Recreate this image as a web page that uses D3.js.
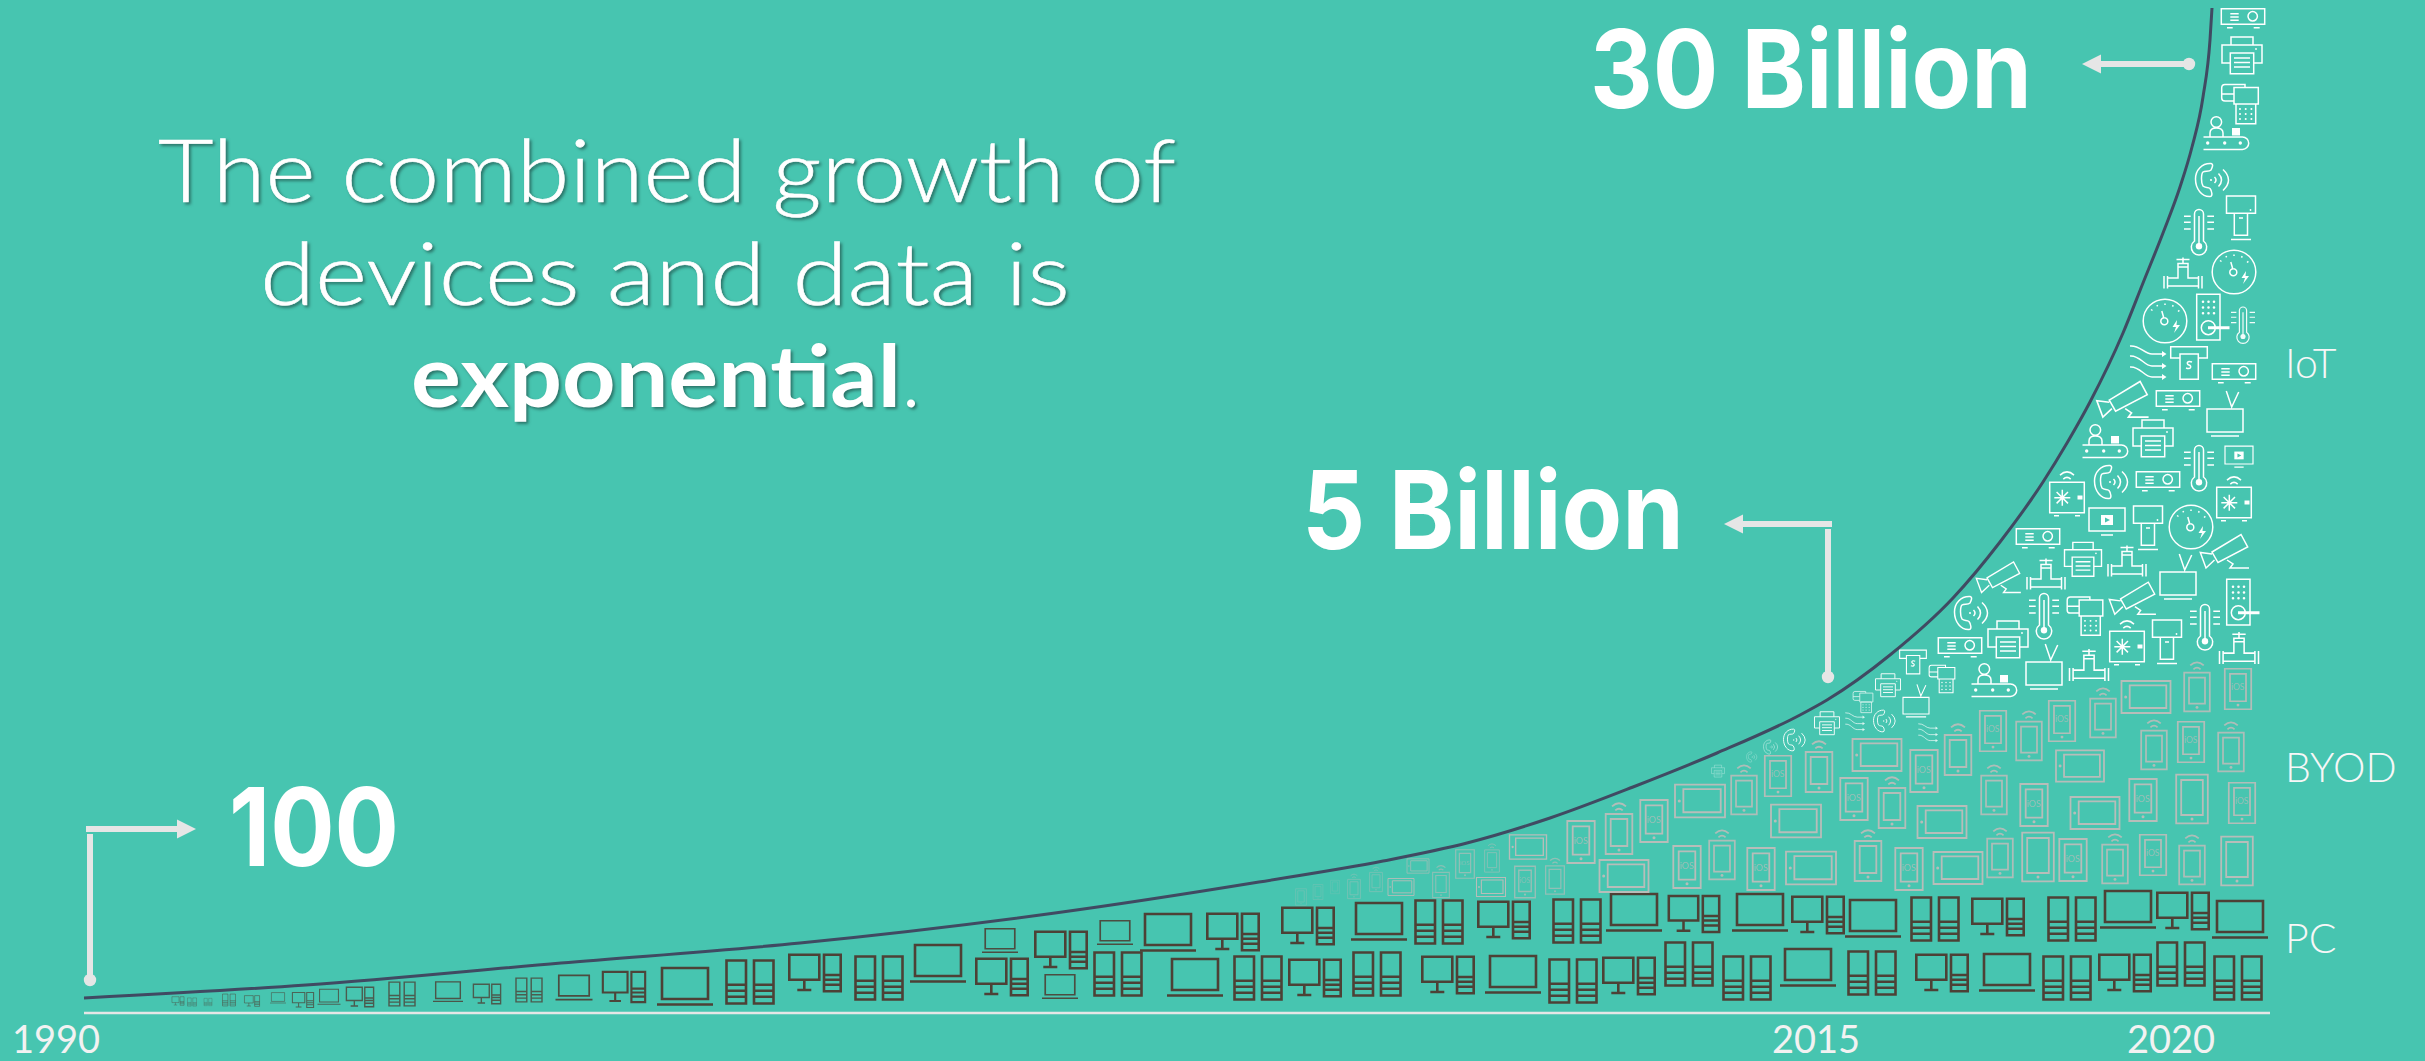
<!DOCTYPE html>
<html>
<head>
<meta charset="utf-8">
<title>Device growth</title>
<script src="https://cdn.jsdelivr.net/npm/d3@7"></script>
<style>
  html, body { margin: 0; padding: 0; background: #47c5b0; overflow: hidden; }
  svg { display: block; }
  .shadowed { filter: drop-shadow(2px 2.5px 1.5px rgba(20, 50, 45, .55)); }
</style>
</head>
<body>
<svg id="chart" width="2425" height="1061"></svg>
<script>
// Growth curve, in timeline steps (about 70 to the year) and height above the baseline.
const curveSteps   = [0, 222, 477, 716, 971, 1175, 1299, 1383, 1466, 1549, 1633, 1716, 1743, 1806, 1869, 1916, 1959, 1983, 2006, 2039, 2059, 2079, 2096, 2108, 2119, 2126, 2128];
const curveHeights = [15, 28, 50, 70, 100, 131, 152, 170, 195, 226, 260, 298, 313, 358, 415, 471, 531, 570, 611, 680, 730, 780, 826, 866, 916, 973, 1005];

// Called-out milestones.
const calloutLabels  = ["100", "5 Billion", "30 Billion"];
const calloutYears   = [1990, 2015, 2020];
const calloutDevices = [100, 5e9, 30e9];

const tickLabels = ["1990", "2015", "2020"];
const seriesLabels = ["IoT", "BYOD", "PC"];
const titleLines = ["The combined growth of", "devices and data is"];

// Device glyphs: [kind, timeline step, height, span in steps].
const pcDevices = [
  ["monitorTower",94,12,12],["towers",108,11,9],["towers",124,11,8],["towers",145,13,13],
  ["monitorTower",168,12,15],["laptop",194,15,16],["monitorTower",219,13,21],["laptop",245,16,23],
  ["monitorTower",276,16,27],["towers",318,19,26],["laptop",364,21,30],["monitorTower",403,19,27],
  ["towers",445,23,26],["laptop",490,25,37],["monitorTower",540,26,42],["laptop",601,26,56],
  ["towers",666,31,47],["monitorTower",731,40,51],["towers",795,35,47],["laptop",854,49,56],
  ["laptop",916,72,36],["monitorTower",918,36,51],["monitorTower",977,63,51],["laptop",976,26,36],
  ["towers",1034,39,47],["laptop",1031,80,36],["laptop",1084,80,56],["laptop",1111,35,56],
  ["monitorTower",1149,81,51],["towers",1174,35,47],["monitorTower",1224,87,51],["monitorTower",1231,35,51],
  ["towers",1293,39,47],["laptop",1295,91,56],["towers",1355,91,47],["monitorTower",1364,38,51],
  ["monitorTower",1420,93,51],["laptop",1429,38,56],["towers",1489,32,47],["towers",1493,92,47],
  ["monitorTower",1545,37,51],["laptop",1550,100,56],["towers",1605,49,47],["monitorTower",1610,99,50],
  ["towers",1663,35,47],["laptop",1676,100,56],["laptop",1724,45,56],["monitorTower",1734,98,51],
  ["towers",1788,40,47],["laptop",1789,94,56],["towers",1851,94,47],["monitorTower",1858,40,51],
  ["monitorTower",1914,96,51],["laptop",1923,40,56],["towers",1983,35,47],["towers",1988,94,47],
  ["monitorTower",2041,40,51],["laptop",2044,103,56],["towers",2097,49,47],["monitorTower",2099,102,51],
  ["towers",2154,35,47],["laptop",2156,93,56]
];

const byodDevices = [
  ["ios",1217,116,11],["ios",1234,121,10],["ios",1251,126,9],["phone",1270,124,13],["phone",1292,131,13],
  ["tablet",1317,126,26],["tablet",1334,147,22],["phone",1357,128,17],["ios",1381,149,19],["phone",1408,152,15],
  ["tablet",1407,126,29],["tablet",1444,166,37],["ios",1441,131,21],["phone",1471,133,19],["ios",1497,171,28],
  ["tablet",1540,137,49],["phone",1535,179,27],["ios",1570,192,28],["ios",1603,146,28],["phone",1638,153,26],
  ["tablet",1616,212,50],["phone",1660,218,26],["ios",1694,237,27],["ios",1677,144,28],["tablet",1712,192,50],
  ["tablet",1727,145,50],["phone",1735,241,27],["tablet",1793,258,49],["ios",1770,214,28],["phone",1808,205,27],
  ["ios",1840,242,28],["phone",1874,258,27],["tablet",1858,191,49],["phone",1784,152,27],["ios",1825,144,28],
  ["tablet",1874,145,49],["ios",1909,282,27],["phone",1945,272,26],["ios",1978,292,27],["phone",2019,295,26],
  ["tablet",2062,316,49],["phone",2113,321,26],["ios",2154,324,27],["phone",1910,218,26],["ios",1950,208,28],
  ["tablet",1996,247,48],["phone",2070,263,26],["ios",2107,271,27],["phone",2147,261,26],["tablet",2011,200,49],
  ["ios",2059,213,28],["slate",2108,214,32],["ios",2158,210,27],["phone",1916,155,26],["slate",1954,156,32],
  ["ios",1989,153,28],["phone",2031,149,26],["ios",2069,158,27],["phone",2108,148,26],["slate",2153,152,32]
];

const iotDevices = [
  ["projector",2159,995,43],["printer",2158,958,40],["terminal",2156,909,37],["conveyor",2142,880,45],
  ["handset",2129,833,35],["kiosk",2157,795,29],["thermometer",2115,781,30],["valve",2099,740,38],
  ["gauge",2150,741,45],["gauge",2081,692,45],["lock",2129,696,33],["thermometer",2159,688,24],
  ["wind",2064,650,37],["atm",2105,650,37],["projector",2150,640,43],["camera",2038,614,50],
  ["projector",2094,613,43],["tv",2141,599,36],["conveyor",2021,572,45],["printer",2069,575,40],
  ["thermometer",2115,545,30],["screen",2155,556,28],["safe",1983,519,35],["handset",2028,531,35],
  ["projector",2074,532,43],["safe",2150,514,35],["screen",2023,491,36],["kiosk",2064,485,29],
  ["gauge",2107,486,45],["camera",2140,462,47],["projector",1954,475,43],["printer",1999,454,37],
  ["valve",2043,452,38],["tv",2094,436,36],["camera",1914,436,43],["valve",1962,439,38],
  ["thermometer",1960,397,30],["terminal",2001,397,36],["camera",2048,415,45],["thermometer",2121,386,30],
  ["lock",2159,411,33],["safe",2043,370,35],["kiosk",2083,371,29],["valve",2155,365,39],
  ["printer",1924,374,40],["handset",1888,400,35],["projector",1876,366,43],["tv",1960,346,36],
  ["valve",2005,348,39],["conveyor",1910,333,45],["atm",1829,351,27],["terminal",1858,334,26],
  ["printer",1804,328,25],["tv",1832,312,26],["terminal",1779,311,20],["printer",1743,290,25],
  ["wind",1771,291,20],["handset",1801,292,23],["wind",1844,280,20],["handset",1711,273,23],
  ["handset",1687,266,15],["handset",1668,256,11],["printer",1634,242,13]
];

// Scales: timeline steps and heights for the curve and glyphs, years and device counts for the call-outs.
const stepX = d3.scaleLinear().domain([0, 2186]).range([84, 2270]);
const heightY = d3.scaleLinear().domain([0, 1013]).range([1013, 0]);
const yearX = d3.scaleLinear().domain([1990, 2015, 2020]).range([90, 1828, 2189]);
const devicesY = d3.scaleLinear().domain([100, 5e9, 30e9]).range([980, 677, 64]);

const svg = d3.select("#chart");
const BG = "#47c5b0", LIGHT = "#e6e6e6", WHITE = "#ffffff";

// Round mark as a path fragment.
const dot = (x, y, r) => `M${x - r} ${y}a${r} ${r} 0 1 0 ${2 * r} 0a${r} ${r} 0 1 0 ${-2 * r} 0Z`;
const grid = (xs, ys, r) => xs.flatMap(x => ys.map(y => dot(x, y, r))).join("");
const wifi = (top) => `M-7 ${top + 3.4}Q0 ${top - 3} 7 ${top + 3.4}M-3.7 ${top + 7.4}Q0 ${top + 4} 3.7 ${top + 7.4}`;

// Glyph outlines, centred on the origin; w is the width the geometry was drawn at.
const glyphs = {
  laptop: { w: 56, line: "M-23 -19H23V12H-23ZM-28 17.5H28" },
  monitorTower: { w: 51, line: "M-25.7 -18.3H4.3V6.7H-25.7ZM-10.7 6.7V17M-17.7 17H-3.7M9 -18.3H25.7V18.3H9ZM9 2H25.7M9 6.7H25.7M9 11.7H25.7" },
  towers: { w: 47, line: "M-23.5 -21.5H-4V21.5H-23.5ZM-23.5 2.7H-4M-23.5 8.7H-4M-23.5 14.7H-4M4 -21.5H23.5V21.5H4ZM4 2.7H23.5M4 8.7H23.5M4 14.7H23.5" },
  phone: { w: 27, line: "M-13.3 -20H13.3V20H-13.3ZM-8.3 -15H8.3V12H-8.3Z" + wifi(-31), fill: dot(0, 16, 1.5) },
  ios: { w: 28, line: "M-13.7 -21H13.7V21H-13.7ZM-8.3 -15.7H8.3V12.7H-8.3Z", fill: dot(0, 16.7, 1.5), label: "iOS" },
  slate: { w: 32, line: "M-15.8 -24.3H15.8V24.3H-15.8ZM-10.8 -19H10.8V16H-10.8Z", fill: dot(0, 20, 1.5) },
  tablet: { w: 49, line: "M-24.5 -16H24.5V16H-24.5ZM-16.3 -11.7H20.3V11H-16.3Z", fill: dot(-20.3, 0, 1.5) },
  projector: { w: 43, line: "M-21.7 -9.3H21.7V6.3H-21.7ZM-16 9.7H-10.3M10.7 9.7H16.7M-12.7 -4.3H-4.3M-12.7 -1H-4.3M-12.7 2.3H-4.3" + dot(9.7, -1.7, 4.7) },
  printer: { w: 40, line: "M-11.7 8H-20V-10H20V8H11.7M-11 -10V-18H11V-10M-11.7 -2H11.7V18.7H-11.7ZM-8 3H8M-8 7.5H8M-8 12H8", fill: dot(14, -6, 0.9) },
  terminal: { w: 37, line: "M-6 -3H-15Q-18.3 -3 -18.3 -6V-16Q-18.3 -19.5 -15 -19.5H5V-16.5M-18.3 -10H-6M-6 -16.5H18.3V0H-6ZM-4 0H15.7V19.7H-4Z", fill: grid([0, 5.7, 11.4], [5, 10, 15], 1) },
  conveyor: { w: 45, line: dot(-9.7, -11, 5.3) + "M-16 4V0Q-16 -5 -9.7 -5Q-3 -5 -3 0V4M-22.5 4H16.5A6.2 6.2 0 0 1 16.5 16.4H-22.5", fill: "M6 -5h8v7.5h-8Z" + dot(-18.3, 10, 1.7) + dot(-1.3, 10, 1.7) + dot(14.3, 10, 1.7) },
  handset: { w: 35, line: "M-2 -16.5C-11 -17 -17.5 -10 -17.5 -1C-17.5 9 -11 17 -3 16.5C0 16.5 -1 11 -3 8.5C-5 7 -8 8 -10 6C-12 3 -12 -6 -10 -8C-8 -9.5 -4 -8 -2 -10C-1 -12 1 -16 -2 -16.5ZM1.5 -3Q4.5 0 1.5 3M5.5 -6.5Q11.5 0 5.5 6.5M10 -10.5Q21 0 10 10.5", fill: dot(-2, 0, 1) },
  kiosk: { w: 29, line: "M-14.5 -22H14.5V-4.7H-14.5ZM-6.7 -4.7H6.5V17.3H-6.7ZM-10 21.4H10M-2 0H2", fill: dot(9.5, -8, 0.9) },
  thermometer: { w: 30, line: "M-4.5 9V-18A4.5 4.5 0 0 1 4.5 -18V9A7.7 7.7 0 1 1 -4.5 9ZM0 -16V14M-15 -15.7H-8.3M-15 -9.7H-8.3M-15 -3H-8.3M8.3 -15.7H15M8.3 -9.7H15M8.3 -3H15", fill: dot(0, 14.3, 3.2) },
  valve: { w: 38, line: "M-15 5H-5V-6H5V5H15M-15 13H15M-19 3V15.5M-15.5 3V15.5M19 3V15.5M15.5 3V15.5M-6.5 -13.5H6.5M0 -15.5V-10M-5 -9.5H5V-6H-5Z" },
  gauge: { w: 45, line: dot(0, 0, 21.8) + dot(-0.7, 0.3, 3.5) + "M-1.2 -3L-3.2 -10M-14 -11.5L-12.5 -10.5M-8 -16L-7.4 -14.6M0 -17.5V-16M8.2 -15.8L7.5 -14.4M14.4 -10.6L13 -9.5", fill: "M12 -1L7.5 6H11L9 12L15 4H11.5Z" },
  lock: { w: 33, line: "M-16.3 -22.7H7V23H-16.3Z" + dot(-4.7, 10.7, 7), fill: grid([-10, -4.5, 1], [-15.3, -9.5, -3.7], 1.3) + "M-5 9.2H16.5V12.2H-5Z" },
  wind: { w: 37, line: "M-18 -17C-8 -18 -4 -9 4 -9H15M-18 -7C-8 -8 -4 3 4 3H15M-18 4C-8 3 -4 14 4 14H15", fill: "M18.5 -9L14 -12V-6ZM18.5 3L14 0V6ZM18.5 14L14 11V17Z" },
  atm: { w: 37, line: "M-9 -5H-18.3V-16.3H18.3V-5H9.3M-9 -9H9.3V16.3H-9ZM3 -1C-2 -3 -3 1 0 2C3 3 2 7 -3 5" },
  camera: { w: 47, line: "M-12 1L17 -16.5L23.7 -4L-6 11.5ZM-12 3L-23.7 1.5L-18 17L-9.5 9M3 9L9 13L6 17H25" },
  safe: { w: 35, line: "M-17.3 -11.7H17.3V18.7H-17.3ZM-13 21.7H-8M8 21.7H13M-4.7 -4.3V11.7M-12.7 3.7H3.3M-10.4 -2L1 9.4M-10.4 9.4L1 -2" + wifi(-22.3), fill: "M10.5 1.5H15.5V5.5H10.5Z" },
  screen: { w: 36, line: "M-18 -14H18V9H-18ZM-6 13H6", fill: "M-6 -7H6V3H-6Z", hole: "M-2 -4.5L3 -2L-2 0.5Z" },
  tv: { w: 36, line: "M-18 -5H18V18H-18ZM-14 22H14M1.3 -23L6.7 -7L13.7 -22" }
};

// Draws one family of device glyphs; smaller glyphs fade into the background.
function drawDevices(rows, cls, colour, strokeWidth, fade) {
  const group = svg.append("g").attr("class", cls);
  const marks = group.selectAll("g").data(rows).join("g")
    .attr("transform", d => {
      const g = glyphs[d[0]];
      return `translate(${stepX(d[1])},${heightY(d[2])}) scale(${d[3] / g.w})`;
    })
    .attr("opacity", d => fade(d[3]));
  marks.append("path")
    .attr("d", d => glyphs[d[0]].line)
    .attr("fill", "none").attr("stroke", colour).attr("stroke-width", strokeWidth);
  marks.filter(d => glyphs[d[0]].fill).append("path")
    .attr("d", d => glyphs[d[0]].fill).attr("fill", colour);
  marks.filter(d => glyphs[d[0]].hole).append("path")
    .attr("d", d => glyphs[d[0]].hole).attr("fill", BG);
  marks.filter(d => glyphs[d[0]].label && d[3] >= 18).append("text")
    .text(d => glyphs[d[0]].label)
    .attr("text-anchor", "middle").attr("y", 1.5)
    .attr("font-family", "Lato").attr("font-size", 9).attr("fill", colour).attr("opacity", .75);
}

drawDevices(pcDevices, "pc", "#4d4136", 2.6, d3.scaleLinear().domain([8, 30, 45]).range([.55, .85, 1]).clamp(true));
drawDevices(byodDevices, "byod", "#b7bdb9", 1.8, d3.scaleLinear().domain([9, 28]).range([.3, 1]).clamp(true));
drawDevices(iotDevices, "iot", WHITE, 1.5, d3.scaleLinear().domain([11, 26]).range([.5, 1]).clamp(true));

// Baseline and growth curve.
svg.append("line").attr("x1", stepX.range()[0]).attr("x2", stepX.range()[1])
  .attr("y1", heightY(0)).attr("y2", heightY(0))
  .attr("stroke", LIGHT).attr("stroke-width", 2.5);

svg.append("path")
  .datum(d3.zip(curveSteps, curveHeights))
  .attr("d", d3.line().x(d => stepX(d[0])).y(d => heightY(d[1])).curve(d3.curveMonotoneX))
  .attr("fill", "none").attr("stroke", "#404a62").attr("stroke-width", 3);

// Call-out leaders: a dot on the milestone, a shaft and an arrowhead towards its label.
function leader(i, elbow, tip) {
  const x = yearX(calloutYears[i]), y = devicesY(calloutDevices[i]);
  const g = svg.append("g").attr("fill", LIGHT).attr("stroke", "none");
  g.append("circle").attr("cx", x).attr("cy", y).attr("r", 6.2);
  const dir = tip > x ? 1 : -1;
  const base = tip - dir * 19;
  const shaftY = elbow === null ? y : elbow;
  if (elbow !== null) {
    g.append("rect").attr("x", x - 3).attr("y", elbow + 5).attr("width", 6).attr("height", y - elbow - 5);
  }
  g.append("rect").attr("x", Math.min(x + (elbow === null ? 0 : -dir * 4), base))
    .attr("y", shaftY - 3)
    .attr("width", Math.abs(x + (elbow === null ? 0 : -dir * 4) - base)).attr("height", 6);
  g.append("path").attr("d", `M${tip} ${shaftY}L${base} ${shaftY - 9.5}V${shaftY + 9.5}Z`);
}
leader(0, 829, 196);
leader(1, 524, 1724);
leader(2, null, 2082);

// Big milestone labels.
const bigAttrs = [
  { x: 229, y: 866, len: 170 },
  { x: 1302, y: 549, len: 382 },
  { x: 1590, y: 108, len: 442 }
];
svg.selectAll("text.big").data(calloutLabels).join("text")
  .attr("class", "big")
  .text(d => d)
  .attr("x", (d, i) => bigAttrs[i].x).attr("y", (d, i) => bigAttrs[i].y)
  .attr("textLength", (d, i) => bigAttrs[i].len).attr("lengthAdjust", "spacingAndGlyphs")
  .attr("font-family", "Inter").attr("font-weight", 700)
  .attr("font-size", 108).attr("fill", WHITE);

// Headline.
const head = svg.append("g").attr("class", "shadowed")
  .attr("font-family", "Lato").attr("fill", WHITE).attr("font-size", 86);
const headAttrs = [{ x: 158, y: 202, len: 1018 }, { x: 260, y: 305, len: 810 }];
head.selectAll("text.line").data(titleLines).join("text").attr("class", "line")
  .text(d => d).attr("font-weight", 300)
  .attr("stroke", WHITE).attr("stroke-width", 0.6)
  .attr("x", (d, i) => headAttrs[i].x).attr("y", (d, i) => headAttrs[i].y)
  .attr("textLength", (d, i) => headAttrs[i].len).attr("lengthAdjust", "spacingAndGlyphs");
const last = head.append("text").attr("x", 411).attr("y", 407);
last.append("tspan").text("exponential").attr("font-weight", 700).attr("textLength", 490).attr("lengthAdjust", "spacingAndGlyphs");
last.append("tspan").text(".").attr("font-weight", 300);

// Axis years and series names.
const tickX = [56, 1816, 2171];
svg.selectAll("text.tick").data(tickLabels).join("text").attr("class", "tick")
  .text(d => d).attr("x", (d, i) => tickX[i]).attr("y", 1053)
  .attr("text-anchor", "middle").attr("font-family", "Lato").attr("font-size", 38).attr("fill", "#f2f2f2");

const seriesY = [378, 782, 953];
svg.selectAll("text.series").data(seriesLabels).join("text").attr("class", "series")
  .text(d => d).attr("x", 2285).attr("y", (d, i) => seriesY[i])
  .attr("font-family", "Lato").attr("font-weight", 300).attr("font-size", 41).attr("fill", "#f7f7f7");
</script>
</body>
</html>
